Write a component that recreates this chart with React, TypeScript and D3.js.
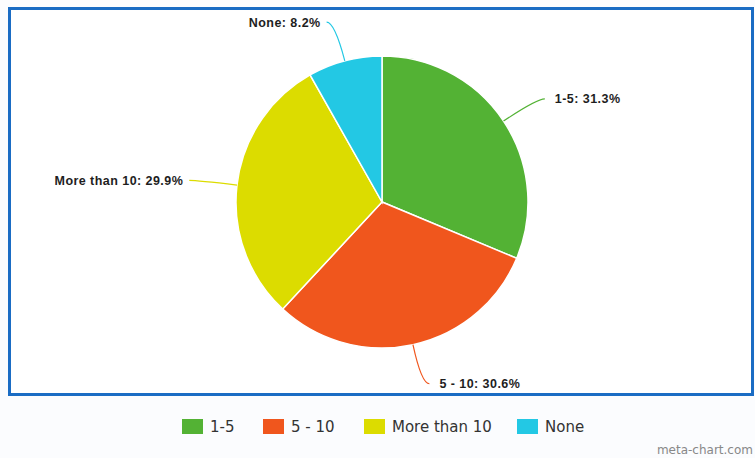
import React from "react";
import * as d3 from "d3";

const categories = ["1-5", "5 - 10", "More than 10", "None"];
const values = [31.3, 30.6, 29.9, 8.2];
const colors = ["#53b234", "#f0561d", "#dcdc00", "#23c8e4"];

const W = 755;
const H = 458;
const cx = 382;
const cy = 202;
const R = 146;

export default function App() {
  const pie = d3.pie<number>().sort(null).value((d) => d)(values);
  const arc = d3.arc<d3.PieArcDatum<number>>().innerRadius(0).outerRadius(R);

  const legendX = [182, 263, 364, 517];

  return (
    <svg
      width={W}
      height={H}
      style={{ position: "absolute", left: 0, top: 0, background: "#fbfcfe" }}
      fontFamily="'Liberation Sans', Arial, sans-serif"
    >
      <rect x={9.5} y={8.5} width={743} height={386} fill="#ffffff" stroke="#1a6cc4" strokeWidth={3} />
      <g transform={`translate(${cx},${cy})`}>
        {pie.map((p, i) => (
          <path key={i} d={arc(p) || ""} fill={colors[i]} stroke="#ffffff" strokeWidth={1.5} />
        ))}
        {pie.map((p, i) => {
          const a = (p.startAngle + p.endAngle) / 2;
          const x0 = Math.sin(a) * R;
          const y0 = -Math.cos(a) * R;
          const x1 = Math.sin(a) * (R + 40);
          const y1 = -Math.cos(a) * (R + 40);
          const right = x1 > 0;
          const x2 = x1 + (right ? 8 : -8);
          const tx = x2 + (right ? 10 : -6);
          return (
            <g key={"l" + i}>
              <path
                d={`M${x0},${y0} Q${x1},${y1} ${x2},${y1}`}
                fill="none"
                stroke={colors[i]}
                strokeWidth={1.2}
              />
              <text
                x={tx}
                y={y1 + 4.5}
                textAnchor={right ? "start" : "end"}
                fontSize={12.5}
                fontWeight="bold"
                letterSpacing={0.45}
                fill="#1e1e1e"
              >
                {`${categories[i]}: ${values[i]}%`}
              </text>
            </g>
          );
        })}
      </g>
      <g fontFamily="'DejaVu Sans', Verdana, sans-serif" fontSize={15} fill="#333333">
        {categories.map((c, i) => (
          <g key={"lg" + i} transform={`translate(${legendX[i]},419)`}>
            <rect x={0} y={0} width={21} height={15} fill={colors[i]} />
            <text x={28} y={13}>{c}</text>
          </g>
        ))}
      </g>
      <text
        x={753}
        y={454}
        textAnchor="end"
        fontFamily="'DejaVu Sans', Verdana, sans-serif"
        fontSize={12}
        fill="#888888"
      >
        meta-chart.com
      </text>
    </svg>
  );
}
